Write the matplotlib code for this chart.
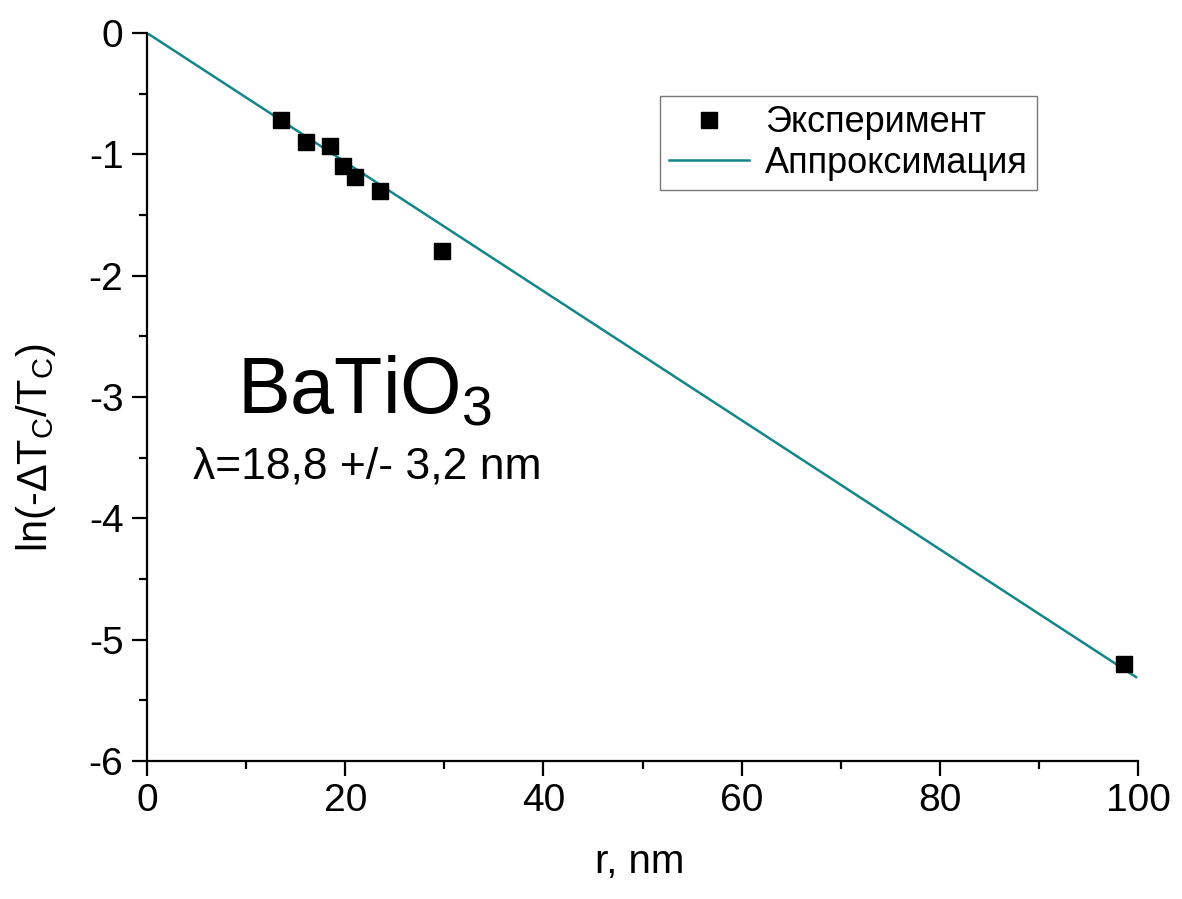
import matplotlib
matplotlib.use("Agg")
import matplotlib.pyplot as plt
import numpy as np

plt.rcParams['font.family'] = ['Liberation Sans', 'DejaVu Sans']
plt.rcParams['mathtext.fontset'] = 'custom'
plt.rcParams['mathtext.rm'] = 'Liberation Sans'
plt.rcParams['mathtext.it'] = 'Liberation Sans:italic'
plt.rcParams['mathtext.default'] = 'rm'

# experimental points
r_exp = [13.5, 16.0, 18.5, 19.8, 21.0, 23.5, 29.8, 98.6]
ln_exp = [-0.72, -0.90, -0.93, -1.10, -1.19, -1.30, -1.80, -5.20]

# fit: ln = -r / lambda
lam = 18.8
r_fit = [0, 99.8]
ln_fit = [-r / lam for r in r_fit]

fig = plt.figure(figsize=(11.82, 8.99), dpi=100)
ax = fig.add_axes([0.1244, 0.1535, 0.8384, 0.8098])

ax.plot(r_exp, ln_exp, 's', color='black', markersize=12, label='Эксперимент', zorder=3)
ax.plot(r_fit, ln_fit, '-', color='#13868a', linewidth=1.8, label='Аппроксимация', zorder=2)

ax.set_xlim(0, 100)
ax.set_ylim(-6, 0)
ax.set_xticks([0, 20, 40, 60, 80, 100])
ax.set_xticks([10, 30, 50, 70, 90], minor=True)
ax.set_yticks([0, -1, -2, -3, -4, -5, -6])
ax.set_yticks(np.arange(-5.5, 0, 1.0), minor=True)
ax.set_yticklabels(['0', '-1', '-2', '-3', '-4', '-5', '-6'])

for s in ['top', 'right']:
    ax.spines[s].set_visible(False)
for s in ['left', 'bottom']:
    ax.spines[s].set_linewidth(1.6)

ax.tick_params(which='major', direction='out', length=11, width=1.6, labelsize=28)
ax.tick_params(axis='x', which='major', pad=5)
ax.tick_params(axis='y', which='major', pad=6)
ax.tick_params(which='minor', direction='out', length=6, width=1.6)

ax.set_xlabel('r, nm', fontsize=29)
ax.xaxis.set_label_coords(0.4975, -0.112)
ax.set_ylabel(r'ln(-$\Delta$T$_C$/T$_C$)', fontsize=30)
ax.yaxis.set_label_coords(-0.09, 0.43)

ax.text(9.1, -3.13, r'BaTiO$_3$', fontsize=57, va='baseline', ha='left')
ax.text(4.6, -3.67, 'λ=18,8 +/- 3,2 nm', fontsize=32, va='baseline', ha='left')

leg = ax.legend(loc='upper left', bbox_to_anchor=(0.518, 0.913), fontsize=26,
                frameon=True, fancybox=False, edgecolor='#555555', borderpad=0.25,
                borderaxespad=0, handlelength=2.2, handletextpad=0.45, labelspacing=0.15)
leg.get_frame().set_linewidth(1.0)

fig.savefig('out.png', dpi=100)
